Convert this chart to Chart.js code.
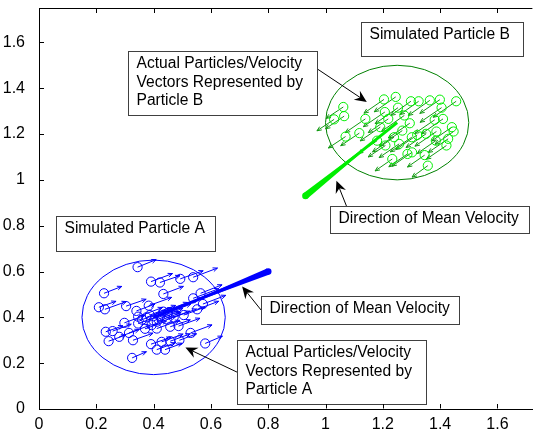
<!DOCTYPE html>
<html>
<head>
<meta charset="utf-8">
<script src="https://cdn.jsdelivr.net/npm/chart.js@4.4.1/dist/chart.umd.min.js"></script>
<style>
  body { margin: 0; background: #fff; }
  canvas { display: block; }
</style>
</head>
<body>
<canvas id="myChart" width="538" height="429"></canvas>
<script>
// axis ticks
var xTicks = [0, 0.2, 0.4, 0.6, 0.8, 1, 1.2, 1.4, 1.6];
var yTicks = [0, 0.2, 0.4, 0.6, 0.8, 1, 1.2, 1.4, 1.6];

// particle A: positions and velocity vectors
var aX = [0.344, 0.391, 0.422, 0.493, 0.538, 0.227, 0.434, 0.564, 0.209, 0.230,
          0.304, 0.383, 0.340, 0.538, 0.552, 0.572, 0.346, 0.387, 0.422, 0.298,
          0.346, 0.411, 0.446, 0.487, 0.458, 0.393, 0.411, 0.233, 0.257, 0.280,
          0.314, 0.243, 0.328, 0.529, 0.391, 0.428, 0.458, 0.490, 0.580, 0.411,
          0.440, 0.325, 0.375, 0.434, 0.470, 0.505, 0.360, 0.400, 0.450, 0.370];
var aY = [0.619, 0.556, 0.552, 0.568, 0.575, 0.505, 0.502, 0.505, 0.444, 0.435,
          0.449, 0.451, 0.428, 0.483, 0.435, 0.458, 0.403, 0.410, 0.403, 0.376,
          0.373, 0.381, 0.391, 0.362, 0.359, 0.366, 0.351, 0.337, 0.340, 0.315,
          0.332, 0.296, 0.300, 0.332, 0.283, 0.293, 0.296, 0.300, 0.286, 0.259,
          0.259, 0.223, 0.400, 0.425, 0.400, 0.410, 0.390, 0.385, 0.420, 0.350];
var aU = [0.065, 0.075, 0.070, 0.080, 0.085, 0.062, 0.070, 0.075, 0.060, 0.075,
          0.070, 0.080, 0.065, 0.090, 0.075, 0.080, 0.085, 0.090, 0.080, 0.070,
          0.075, 0.085, 0.080, 0.075, 0.070, 0.085, 0.080, 0.060, 0.065, 0.070,
          0.075, 0.060, 0.070, 0.075, 0.070, 0.075, 0.070, 0.060, 0.060, 0.065,
          0.060, 0.050, 0.090, 0.085, 0.080, 0.075, 0.085, 0.090, 0.080, 0.075];
var aV = [0.033, 0.035, 0.030, 0.035, 0.040, 0.030, 0.033, 0.037, 0.026, 0.034,
          0.030, 0.036, 0.030, 0.042, 0.035, 0.038, 0.040, 0.042, 0.036, 0.032,
          0.034, 0.040, 0.036, 0.034, 0.030, 0.038, 0.036, 0.026, 0.030, 0.032,
          0.034, 0.027, 0.031, 0.035, 0.030, 0.034, 0.032, 0.028, 0.032, 0.030,
          0.028, 0.027, 0.042, 0.040, 0.036, 0.035, 0.040, 0.040, 0.038, 0.034];

// particle B: positions and velocity vectors
var bX = [1.204, 1.245, 1.298, 1.325, 1.364, 1.399, 1.456, 1.062, 1.065, 1.030,
          1.139, 1.207, 1.253, 1.405, 1.219, 1.275, 1.294, 1.381, 1.410, 1.441,
          1.447, 1.070, 1.118, 1.191, 1.268, 1.320, 1.351, 1.387, 1.428, 1.385,
          1.180, 1.209, 1.301, 1.422, 1.233, 1.286, 1.302, 1.346, 1.357, 1.239,
          1.257];
var bY = [1.351, 1.362, 1.343, 1.343, 1.347, 1.350, 1.343, 1.318, 1.278, 1.264,
          1.266, 1.296, 1.315, 1.315, 1.266, 1.281, 1.247, 1.262, 1.266, 1.230,
          1.211, 1.189, 1.204, 1.230, 1.215, 1.196, 1.201, 1.211, 1.179, 1.171,
          1.171, 1.150, 1.186, 1.150, 1.091, 1.113, 1.120, 1.108, 1.062, 1.186,
          1.157];
var bU = [-0.070, -0.075, -0.070, -0.065, -0.075, -0.070, -0.080, -0.060, -0.065, -0.060,
          -0.070, -0.075, -0.080, -0.075, -0.070, -0.080, -0.075, -0.070, -0.075, -0.070,
          -0.065, -0.060, -0.065, -0.070, -0.080, -0.075, -0.070, -0.075, -0.070, -0.065,
          -0.065, -0.060, -0.075, -0.070, -0.060, -0.065, -0.070, -0.060, -0.055, -0.075,
          -0.070];
var bV = [-0.060, -0.065, -0.062, -0.058, -0.066, -0.060, -0.070, -0.050, -0.055, -0.050,
          -0.060, -0.064, -0.070, -0.064, -0.060, -0.070, -0.064, -0.060, -0.065, -0.060,
          -0.056, -0.050, -0.055, -0.060, -0.068, -0.064, -0.060, -0.064, -0.060, -0.056,
          -0.056, -0.050, -0.064, -0.060, -0.052, -0.056, -0.060, -0.052, -0.050, -0.064,
          -0.060];

// simulated particles: centre, radius, mean velocity
var centreA = [0.40, 0.40], radiusA = 0.25, meanA = [0.40, 0.20];
var centreB = [1.25, 1.25], radiusB = 0.25, meanB = [-0.32, -0.32];

var FONT = '"Liberation Sans", Arial, sans-serif';

// text boxes (data units: left, top, right, bottom) and pointer arrows
var notes = [
  { lines: ['Simulated Particle B'], box: [1.124, 1.687, 1.689, 1.540] },
  { lines: ['Actual Particles/Velocity', 'Vectors Represented by', 'Particle B'],
    box: [0.310, 1.562, 0.969, 1.281], from: [0.969, 1.486], to: [1.144, 1.340] },
  { lines: ['Direction of Mean Velocity'], box: [1.017, 0.886, 1.709, 0.766],
    from: [1.073, 0.886], to: [1.038, 0.996] },
  { lines: ['Simulated Particle A'], box: [0.059, 0.842, 0.615, 0.689] },
  { lines: ['Direction of Mean Velocity'], box: [0.775, 0.495, 1.467, 0.369],
    from: [0.775, 0.432], to: [0.709, 0.535] },
  { lines: ['Actual Particles/Velocity', 'Vectors Represented by', 'Particle A'],
    box: [0.691, 0.301, 1.349, 0.022], from: [0.691, 0.161], to: [0.511, 0.268] }
];

function pts(xs, ys) {
  return xs.map(function (v, i) { return { x: v, y: ys[i] }; });
}

function envelope(ctx, sx, sy, c, r, color) {
  var cx = sx.getPixelForValue(c[0]), cy = sy.getPixelForValue(c[1]);
  var rx = sx.getPixelForValue(c[0] + r) - cx;
  var ry = cy - sy.getPixelForValue(c[1] + r);
  ctx.beginPath();
  ctx.ellipse(cx, cy, rx, ry, 0, 0, Math.PI * 2);
  ctx.strokeStyle = color;
  ctx.lineWidth = 1;
  ctx.stroke();
}

function quiver(ctx, sx, sy, xs, ys, us, vs, color) {
  ctx.strokeStyle = color;
  ctx.lineWidth = 1;
  for (var i = 0; i < xs.length; i++) {
    var x0 = sx.getPixelForValue(xs[i]), y0 = sy.getPixelForValue(ys[i]);
    var x1 = sx.getPixelForValue(xs[i] + us[i]), y1 = sy.getPixelForValue(ys[i] + vs[i]);
    var a = Math.atan2(y1 - y0, x1 - x0);
    ctx.beginPath();
    ctx.moveTo(x0, y0);
    ctx.lineTo(x1, y1);
    ctx.moveTo(x1 - 5 * Math.cos(a - 0.4), y1 - 5 * Math.sin(a - 0.4));
    ctx.lineTo(x1, y1);
    ctx.lineTo(x1 - 5 * Math.cos(a + 0.4), y1 - 5 * Math.sin(a + 0.4));
    ctx.stroke();
  }
}

function meanHead(ctx, sx, sy, c, m, color) {
  var x0 = sx.getPixelForValue(c[0]), y0 = sy.getPixelForValue(c[1]);
  var x1 = sx.getPixelForValue(c[0] + m[0]), y1 = sy.getPixelForValue(c[1] + m[1]);
  var len = Math.hypot(x1 - x0, y1 - y0), a = Math.atan2(y1 - y0, x1 - x0);
  var bx = x1 - 0.6 * len * Math.cos(a), by = y1 - 0.6 * len * Math.sin(a);
  var nx = -Math.sin(a) * 3.3, ny = Math.cos(a) * 3.3;
  ctx.fillStyle = color;
  ctx.beginPath();
  ctx.moveTo(x1 + nx, y1 + ny);
  ctx.lineTo(bx + nx * 0.35, by + ny * 0.35);
  ctx.lineTo(bx - nx * 0.35, by - ny * 0.35);
  ctx.lineTo(x1 - nx, y1 - ny);
  ctx.closePath();
  ctx.fill();
  ctx.beginPath();
  ctx.arc(x1, y1, 3.3, 0, Math.PI * 2);
  ctx.fill();
}

function pointer(ctx, x0, y0, x1, y1) {
  var a = Math.atan2(y1 - y0, x1 - x0);
  var L = 12, W = 5.5, N = 8;
  ctx.strokeStyle = '#000';
  ctx.lineWidth = 1;
  ctx.beginPath();
  ctx.moveTo(x0, y0);
  ctx.lineTo(x1 - N * Math.cos(a), y1 - N * Math.sin(a));
  ctx.stroke();
  var c = Math.cos(a), s = Math.sin(a);
  ctx.fillStyle = '#000';
  ctx.beginPath();
  ctx.moveTo(x1, y1);
  ctx.lineTo(x1 - L * c - W * s, y1 - L * s + W * c);
  ctx.lineTo(x1 - N * c, y1 - N * s);
  ctx.lineTo(x1 - L * c + W * s, y1 - L * s - W * c);
  ctx.closePath();
  ctx.fill();
}

var decor = {
  id: 'decor',
  beforeDatasetsDraw: function (chart) {
    var ctx = chart.ctx, sx = chart.scales.x, sy = chart.scales.y;
    ctx.save();
    envelope(ctx, sx, sy, centreA, radiusA, '#0000ff');
    envelope(ctx, sx, sy, centreB, radiusB, '#008000');
    quiver(ctx, sx, sy, aX, aY, aU, aV, '#0000ff');
    quiver(ctx, sx, sy, bX, bY, bU, bV, '#129a12');
    ctx.restore();
  },
  afterDatasetsDraw: function (chart) {
    var ctx = chart.ctx, sx = chart.scales.x, sy = chart.scales.y;
    ctx.save();
    meanHead(ctx, sx, sy, centreA, meanA, '#0000ff');
    meanHead(ctx, sx, sy, centreB, meanB, '#00ee00');
    notes.forEach(function (n) {
      if (n.from) {
        pointer(ctx, sx.getPixelForValue(n.from[0]), sy.getPixelForValue(n.from[1]),
                sx.getPixelForValue(n.to[0]), sy.getPixelForValue(n.to[1]));
      }
    });
    notes.forEach(function (n) {
      var l = Math.round(sx.getPixelForValue(n.box[0])) + 0.5;
      var t = Math.round(sy.getPixelForValue(n.box[1])) + 0.5;
      var r = Math.round(sx.getPixelForValue(n.box[2])) + 0.5;
      var b = Math.round(sy.getPixelForValue(n.box[3])) + 0.5;
      ctx.fillStyle = '#fff';
      ctx.fillRect(l, t, r - l, b - t);
      ctx.strokeStyle = '#404040';
      ctx.lineWidth = 1;
      ctx.strokeRect(l, t, r - l, b - t);
      ctx.fillStyle = '#000';
      ctx.font = '15.6px ' + FONT;
      ctx.textAlign = 'left';
      ctx.textBaseline = 'middle';
      n.lines.forEach(function (s, i) {
        ctx.fillText(s, l + 8, t + 12.5 + i * 18.2);
      });
    });
    ctx.restore();
  },
  afterDraw: function (chart) {
    var ctx = chart.ctx, sx = chart.scales.x, sy = chart.scales.y, area = chart.chartArea;
    ctx.save();
    ctx.strokeStyle = '#000';
    ctx.lineWidth = 1;
    ctx.beginPath();
    var top = Math.round(area.top) + 0.5, bottom = Math.round(area.bottom) - 0.5;
    var left = Math.round(area.left) + 0.5;
    ctx.moveTo(left, top);
    ctx.lineTo(area.right, top);
    xTicks.forEach(function (v) {
      var px = Math.round(sx.getPixelForValue(v)) + 0.5;
      ctx.moveTo(px, bottom);
      ctx.lineTo(px, bottom - 4.5);
      ctx.moveTo(px, top);
      ctx.lineTo(px, top + 4.5);
    });
    yTicks.forEach(function (v) {
      var py = Math.round(sy.getPixelForValue(v)) + 0.5;
      ctx.moveTo(left, py);
      ctx.lineTo(left + 4.5, py);
    });
    ctx.stroke();
    ctx.restore();
  }
};

var ctx = document.getElementById('myChart');
var myChart = new Chart(ctx, {
  type: 'scatter',
  data: {
    datasets: [{
      data: [{ x: centreA[0], y: centreA[1] },
             { x: centreA[0] + meanA[0], y: centreA[1] + meanA[1] }],
      showLine: true, borderColor: '#0000ff', borderWidth: 3,
      pointRadius: 0, order: 0
    }, {
      data: [{ x: centreB[0], y: centreB[1] },
             { x: centreB[0] + meanB[0], y: centreB[1] + meanB[1] }],
      showLine: true, borderColor: '#00ee00', borderWidth: 3,
      pointRadius: 0, order: 0
    }, {
      data: pts(aX, aY),
      pointStyle: 'circle', pointRadius: 4.6, borderWidth: 1,
      borderColor: '#0000ff', backgroundColor: 'rgba(0,0,0,0)', order: 1
    }, {
      data: pts(bX, bY),
      pointStyle: 'circle', pointRadius: 4.6, borderWidth: 1,
      borderColor: '#00ee00', backgroundColor: 'rgba(0,0,0,0)', order: 1
    }]
  },
  options: {
    responsive: false,
    animation: false,
    layout: { padding: { top: 8, left: 0, right: 0, bottom: 0 } },
    plugins: { legend: { display: false }, tooltip: { enabled: false } },
    scales: {
      x: {
        type: 'linear', min: 0, max: 1.722,
        afterBuildTicks: function (s) { s.ticks = xTicks.map(function (v) { return { value: v }; }); },
        afterFit: function (s) { s.height = 20; s.paddingLeft = 0; s.paddingRight = 0; },
        grid: { display: false },
        border: { display: true, color: '#000', width: 1 },
        ticks: {
          color: '#000', padding: 0, maxRotation: 0, autoSkip: false,
          font: { family: FONT, size: 16, lineHeight: 1 },
          callback: function (v) { return String(Math.round(v * 10) / 10); }
        }
      },
      y: {
        type: 'linear', min: 0, max: 1.75,
        afterBuildTicks: function (s) { s.ticks = yTicks.map(function (v) { return { value: v }; }); },
        afterFit: function (s) { s.width = 39; s.paddingTop = 0; s.paddingBottom = 0; },
        grid: { display: false },
        border: { display: true, color: '#000', width: 1 },
        ticks: {
          color: '#000', padding: 6, autoSkip: false,
          font: { family: FONT, size: 16 },
          callback: function (v) { return String(Math.round(v * 10) / 10); }
        }
      }
    }
  },
  plugins: [decor]
});
</script>
</body>
</html>
